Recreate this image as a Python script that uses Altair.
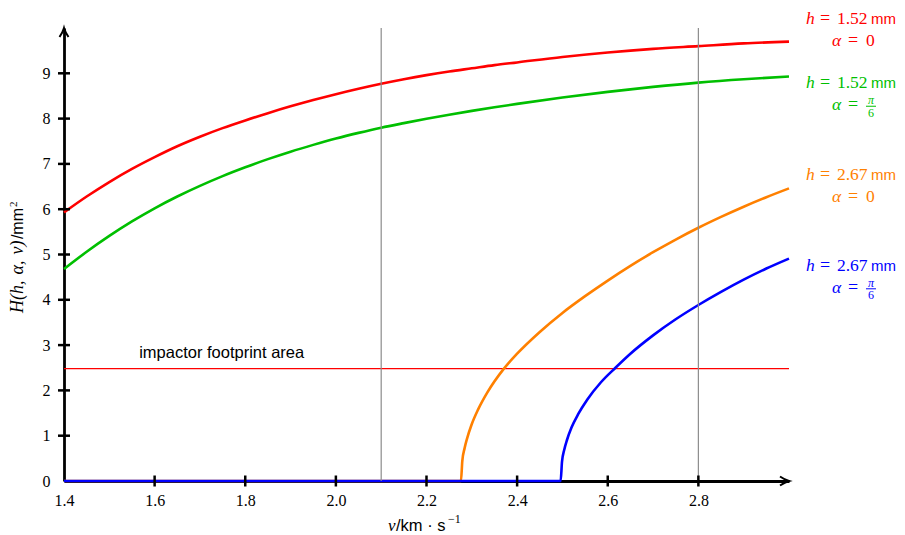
import altair as alt
import pandas as pd

# ---------------- data ----------------
v_red = [1.40, 1.45, 1.50, 1.55, 1.60, 1.65, 1.70, 1.75, 1.80, 1.85, 1.90, 1.95, 2.00, 2.05,
         2.10, 2.15, 2.20, 2.25, 2.30, 2.35, 2.40, 2.50, 2.60, 2.70, 2.80, 2.90, 3.00]
H_red = [5.93, 6.28, 6.60, 6.89, 7.15, 7.39, 7.60, 7.79, 7.96, 8.12, 8.27, 8.41, 8.54, 8.66,
         8.77, 8.87, 8.96, 9.04, 9.11, 9.18, 9.24, 9.36, 9.46, 9.54, 9.60, 9.66, 9.70]

v_green = [1.40, 1.45, 1.50, 1.55, 1.60, 1.65, 1.70, 1.75, 1.80, 1.85, 1.90, 1.95, 2.00, 2.05,
           2.10, 2.15, 2.20, 2.25, 2.30, 2.35, 2.40, 2.50, 2.60, 2.70, 2.80, 2.90, 3.00]
H_green = [4.68, 5.06, 5.41, 5.73, 6.02, 6.28, 6.515, 6.73, 6.925, 7.105, 7.27, 7.42, 7.56, 7.685,
           7.80, 7.90, 7.995, 8.085, 8.17, 8.25, 8.325, 8.465, 8.59, 8.70, 8.795, 8.87, 8.93]

v_orange = [1.40, 2.276, 2.279, 2.284, 2.289, 2.299, 2.314, 2.334, 2.370, 2.400, 2.450, 2.500,
            2.550, 2.600, 2.650, 2.700, 2.750, 2.800, 2.850, 2.900, 2.950, 3.000]
H_orange = [0.00, 0.00, 0.44, 0.72, 0.92, 1.23, 1.58, 1.95, 2.47, 2.81, 3.29, 3.71,
            4.08, 4.425, 4.75, 5.05, 5.33, 5.59, 5.83, 6.055, 6.265, 6.46]

v_blue = [1.40, 2.496, 2.499, 2.504, 2.510, 2.520, 2.535, 2.555, 2.585, 2.617, 2.650, 2.700,
          2.750, 2.800, 2.850, 2.900, 2.950, 3.000]
H_blue = [0.00, 0.00, 0.42, 0.69, 0.905, 1.18, 1.48, 1.80, 2.18, 2.50, 2.81, 3.215,
          3.57, 3.885, 4.175, 4.445, 4.69, 4.91]

series_names = ["h=1.52 a=0", "h=1.52 a=pi/6", "h=2.67 a=0", "h=2.67 a=pi/6"]
series_colors = ["#ff0000", "#00bf00", "#ff8000", "#0000ff"]
h_labels = ["1.52", "1.52", "2.67", "2.67"]
alpha_labels = ["0", "π/6", "0", "π/6"]
label_v = [3.0375, 3.0375, 3.0375, 3.0375]      # anchor of the right-hand labels
label_H = [10.08, 8.67, 6.645, 4.64]            # baseline of first label row

x_ticks = [1.4, 1.6, 1.8, 2.0, 2.2, 2.4, 2.6, 2.8]
y_ticks = [0, 1, 2, 3, 4, 5, 6, 7, 8, 9]
v_markers = [2.1, 2.8]
footprint_H = 2.48
footprint_text = "impactor footprint area"
footprint_label_v = 1.748
footprint_label_H = 2.71

SERIF = "Liberation Serif"
SANS = "Liberation Sans"

# ---------------- scales / axes ----------------
X_SCALE = alt.Scale(domain=[1.4, 3.0], nice=False, zero=False, padding=0)
Y_SCALE = alt.Scale(domain=[0, 10], nice=False, zero=False, padding=0)

x_axis = alt.Axis(values=x_ticks, format=".1f", labelFont=SERIF, labelFontSize=16,
                  labelColor="black", labelPadding=11, labelFlush=False, labelOverlap=False,
                  ticks=False, tickSize=0, grid=False, domainColor="black", domainWidth=2.8,
                  title=None)
y_axis = alt.Axis(values=y_ticks, format="d", labelFont=SERIF, labelFontSize=16,
                  labelColor="black", labelPadding=14, labelFlush=False, labelOverlap=False,
                  ticks=False, tickSize=0, grid=False, domainColor="black", domainWidth=2.8,
                  title=None)


def X(field="v"):
    return alt.X(f"{field}:Q", scale=X_SCALE, axis=x_axis)


def Y(field="H"):
    return alt.Y(f"{field}:Q", scale=Y_SCALE, axis=y_axis)


color_enc = alt.Color("series:N", scale=alt.Scale(domain=series_names, range=series_colors),
                      legend=None)

# ---------------- curves ----------------
curve_layers = []
for name, vs, hs in zip(series_names,
                        [v_red, v_green, v_orange, v_blue],
                        [H_red, H_green, H_orange, H_blue]):
    df = pd.DataFrame({"v": vs, "H": hs, "series": [name] * len(vs)})
    curve_layers.append(
        alt.Chart(df).mark_line(strokeWidth=2.6, interpolate="monotone", strokeCap="butt")
        .encode(x=X(), y=Y(), color=color_enc)
    )

# footprint line and its label
fp_df = pd.DataFrame({"v": [x_ticks[0]], "v2": [3.0], "H": [footprint_H]})
footprint = alt.Chart(fp_df).mark_rule(color="#ff0000", strokeWidth=1.2).encode(
    x=X(), x2="v2:Q", y=Y())
fp_lab_df = pd.DataFrame({"v": [footprint_label_v], "H": [footprint_label_H],
                          "t": [footprint_text]})
footprint_label = alt.Chart(fp_lab_df).mark_text(
    font=SANS, fontSize=16.5, align="center", baseline="alphabetic", color="black"
).encode(x=X(), y=Y(), text="t:N")

# vertical markers
mark_df = pd.DataFrame({"v": v_markers})
markers = alt.Chart(mark_df).mark_rule(color="#8c8c8c", strokeWidth=1.2).encode(x=X())

# crossing ticks
xt_df = pd.DataFrame({"v": x_ticks[1:], "H": [0] * (len(x_ticks) - 1)})
x_tick_marks = alt.Chart(xt_df).mark_tick(orient="vertical", size=11, thickness=2.5,
                                          color="black", opacity=1).encode(x=X(), y=Y())
yt_df = pd.DataFrame({"v": [x_ticks[0]] * (len(y_ticks) - 1), "H": y_ticks[1:]})
y_tick_marks = alt.Chart(yt_df).mark_tick(orient="horizontal", size=12, thickness=2.5,
                                          color="black", opacity=1).encode(x=X(), y=Y())

# arrow heads
arrow_path = "M-2,-1.0 Q-0.9,-0.25 0,0 Q-0.9,0.25 -2,1.0"
arr_x = alt.Chart(pd.DataFrame({"v": [3.0], "H": [0]})).mark_point(
    shape=arrow_path, size=81, filled=False, color="black", strokeWidth=2, opacity=1
).encode(x=X(), y=Y())
arr_y = alt.Chart(pd.DataFrame({"v": [x_ticks[0]], "H": [10]})).mark_point(
    shape=arrow_path, size=81, filled=False, color="black", strokeWidth=2, opacity=1, angle=270
).encode(x=X(), y=Y())

# ---------------- right-hand labels ----------------
lab = pd.DataFrame({
    "v": label_v, "H": label_H, "series": series_names,
    "hval": h_labels,
    "alpha": alpha_labels,
})
lab_base = alt.Chart(lab)


def lab_text(text, dx, dy, size=17.5, font=SERIF, style="normal", align="left", flt=None):
    ch = lab_base
    if flt is not None:
        ch = ch.transform_filter(flt)
    return ch.mark_text(font=font, fontSize=size, fontStyle=style, align=align,
                        baseline="alphabetic", dx=dx, dy=dy).encode(
        x=X(), y=Y(), color=color_enc, text=text)


zero_f = alt.datum.alpha == "0"
frac_f = alt.datum.alpha != "0"
label_layers = [
    lab_text(alt.value("h"), 0, 0, style="italic"),
    lab_text(alt.value("="), 14, 0, size=18),
    lab_text(alt.Text("hval:N"), 31, 0),
    lab_text(alt.value("mm"), 65, 0, size=15, font=SANS),
    lab_text(alt.value("α"), 26, 22, style="italic"),
    lab_text(alt.value("="), 42, 22, size=18),
    lab_text(alt.Text("alpha:N"), 60, 22, flt=zero_f),
    lab_text(alt.value("π"), 65, 16, size=12, style="italic", align="center", flt=frac_f),
    lab_text(alt.value("6"), 65, 28.5, size=12, align="center", flt=frac_f),
    lab_base.transform_filter(frac_f).mark_rule(
        strokeWidth=1, xOffset=60, x2Offset=70, yOffset=18, y2Offset=18
    ).encode(x=X(), x2="v:Q", y=Y(), y2="H:Q", color=color_enc),
]

# ---------------- axis titles (typeset in pieces) ----------------
yt = pd.DataFrame({"v": [1.3095, 1.3095, 1.2963], "H": [3.71, 5.34, 6.05],
                   "t": ["H(h,\u2004α,\u2004v)", "/mm", "2"]})
y_title = [
    alt.Chart(yt.iloc[[0]]).mark_text(font=SERIF, fontSize=18, fontStyle="italic", angle=270,
                                      align="left", baseline="alphabetic", color="black")
    .encode(x=X(), y=Y(), text="t:N"),
    alt.Chart(yt.iloc[[1]]).mark_text(font=SANS, fontSize=16, angle=270,
                                      align="left", baseline="alphabetic", color="black")
    .encode(x=X(), y=Y(), text="t:N"),
    alt.Chart(yt.iloc[[2]]).mark_text(font=SERIF, fontSize=11, angle=270,
                                      align="left", baseline="alphabetic", color="black")
    .encode(x=X(), y=Y(), text="t:N"),
]
xt = pd.DataFrame({"v": [2.115], "H": [-1.11]})
x_title = [
    alt.Chart(xt).mark_text(font=SERIF, fontSize=17, fontStyle="italic", align="left",
                            baseline="alphabetic", color="black")
    .encode(x=X(), y=Y(), text=alt.value("v")),
    alt.Chart(xt).mark_text(font=SANS, fontSize=16.5, align="left", dx=8,
                            baseline="alphabetic", color="black")
    .encode(x=X(), y=Y(), text=alt.value("/km · s")),
    alt.Chart(xt).mark_text(font=SERIF, fontSize=12, align="left", dx=60, dy=-8,
                            baseline="alphabetic", color="black")
    .encode(x=X(), y=Y(), text=alt.value("−1")),
]

chart = alt.layer(
    footprint, *curve_layers, markers, x_tick_marks, y_tick_marks, arr_x, arr_y,
    footprint_label, *label_layers, *y_title, *x_title
).properties(
    width=725, height=453,
    autosize=alt.AutoSizeParams(type="none"),
    padding={"left": 56, "top": 20, "right": 108, "bottom": 54},
).configure_view(stroke=None).configure_axis(
    labelFont=SERIF, labelFontSize=16
).configure_scale(continuousPadding=0)

chart.save("out.html", embed_options={"renderer": "svg", "actions": False})
